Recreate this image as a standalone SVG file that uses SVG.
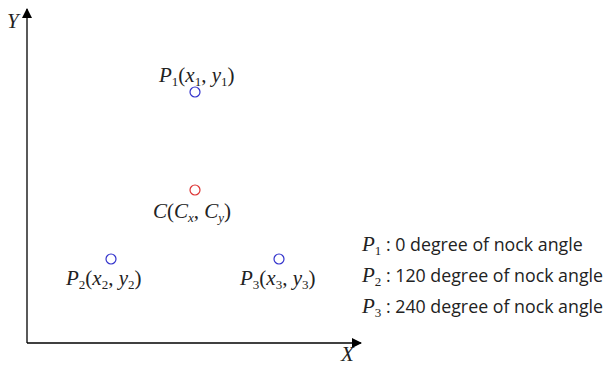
<svg xmlns="http://www.w3.org/2000/svg" width="605" height="367" viewBox="0 0 605 367">
<style>
.ax{stroke:#000;stroke-width:1.3;fill:none}
.m{font-family:"Liberation Serif","Times New Roman",serif;font-style:italic;font-size:21px;fill:#222}
.s{font-size:13px}
.n{font-style:normal}
.lg{font-family:"Open Sans","Noto Sans","DejaVu Sans",sans-serif;font-size:17.8px;fill:#222}
.pb{fill:none;stroke:#3333cc;stroke-width:1.2}
.pr{fill:none;stroke:#dd3333;stroke-width:1.2}
</style>
<defs>
<marker id="ah" viewBox="0 0 10 10" refX="9" refY="5" markerWidth="10" markerHeight="10" markerUnits="userSpaceOnUse" orient="auto">
<path d="M0,0 L10,5 L0,10 z" fill="#000"/>
</marker>
</defs>
<g id="connectors">
<path class="ax" d="M27,343 L27,9" marker-end="url(#ah)"/>
<path class="ax" d="M27,343 L361,343" marker-end="url(#ah)"/>
</g>
<g id="axis-labels">
<text class="m" x="7" y="28" font-size="15">Y</text>
<text class="m" x="341" y="361" font-size="15">X</text>
</g>
<g id="P1">
<circle class="pb" cx="195" cy="92" r="5"/>
<text class="m" x="159" y="82">P<tspan class="s n" dy="4">1</tspan><tspan dy="-4" class="n">(</tspan>x<tspan class="s n" dy="4">1</tspan><tspan dy="-4" class="n">, </tspan>y<tspan class="s n" dy="4">1</tspan><tspan dy="-4" class="n">)</tspan></text>
</g>
<g id="C">
<circle class="pr" cx="195" cy="190" r="5"/>
<text class="m" x="153" y="218">C<tspan class="n">(</tspan>C<tspan class="s" dy="4">x</tspan><tspan dy="-4" class="n">, </tspan>C<tspan class="s" dy="4">y</tspan><tspan dy="-4" class="n">)</tspan></text>
</g>
<g id="P2">
<circle class="pb" cx="111" cy="259" r="5"/>
<text class="m" x="66" y="285">P<tspan class="s n" dy="4">2</tspan><tspan dy="-4" class="n">(</tspan>x<tspan class="s n" dy="4">2</tspan><tspan dy="-4" class="n">, </tspan>y<tspan class="s n" dy="4">2</tspan><tspan dy="-4" class="n">)</tspan></text>
</g>
<g id="P3">
<circle class="pb" cx="279" cy="259" r="5"/>
<text class="m" x="240" y="285">P<tspan class="s n" dy="4">3</tspan><tspan dy="-4" class="n">(</tspan>x<tspan class="s n" dy="4">3</tspan><tspan dy="-4" class="n">, </tspan>y<tspan class="s n" dy="4">3</tspan><tspan dy="-4" class="n">)</tspan></text>
</g>
<g id="legend">
<text x="362" y="251"><tspan class="m">P</tspan><tspan class="m s n" dy="4">1</tspan><tspan class="lg" dy="-4"> : 0 degree of nock angle</tspan></text>
<text x="362" y="282"><tspan class="m">P</tspan><tspan class="m s n" dy="4">2</tspan><tspan class="lg" dy="-4"> : 120 degree of nock angle</tspan></text>
<text x="362" y="313"><tspan class="m">P</tspan><tspan class="m s n" dy="4">3</tspan><tspan class="lg" dy="-4"> : 240 degree of nock angle</tspan></text>
</g>
</svg>
